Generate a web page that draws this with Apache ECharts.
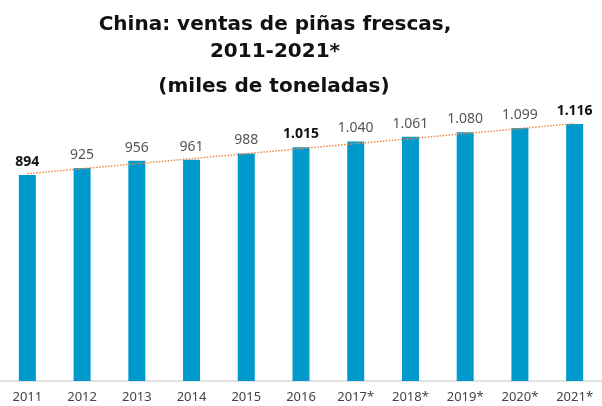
<!DOCTYPE html>
<html>
<head>
<meta charset="utf-8">
<script src="https://cdn.jsdelivr.net/npm/echarts@6/dist/echarts.min.js"></script>
<style>
    html, body { margin: 0; padding: 0; background: #fff; }
    #chart { width: 602px; height: 406px; }
</style>
</head>
<body>
<div id="chart"></div>
<script>
    // años (los marcados con * son estimados)
    var years = ['2011', '2012', '2013', '2014', '2015', '2016', '2017*', '2018*', '2019*', '2020*', '2021*']
    // ventas, miles de toneladas
    var sales = [894, 925, 956, 961, 988, 1015, 1040, 1061, 1080, 1099, 1116]
    // etiquetas en negrita
    var boldYears = ['2011', '2016', '2021*']
    // línea de tendencia: solo extremos
    var trend = [900, null, null, null, null, null, null, null, null, null, 1118]

    var fontFamily = '"Noto Sans", sans-serif'
    var titleFont = 'bold 20px "DejaVu Sans", sans-serif'

    // formato español: punto como separador de miles
    function fmt (v) {
        return String(v).replace(/\B(?=(\d{3})+(?!\d))/g, '.')
    }

    var barData = sales.map(function (v, i) {
        var item = { value: v }
        if (boldYears.indexOf(years[i]) !== -1) {
            item.label = { fontWeight: 'bold', color: '#111' }
        }
        return item
    })

    var chart = echarts.init(document.getElementById('chart'))
    chart.setOption({
        animation: false,
        graphic: [
            {
                type: 'text', x: 275, y: 11,
                style: {
                    text: 'China: ventas de piñas frescas,\n2011-2021*',
                    font: titleFont, fill: '#111',
                    textAlign: 'center', textVerticalAlign: 'top', lineHeight: 27
                }
            },
            {
                type: 'text', x: 274, y: 77,
                style: {
                    text: '(miles de toneladas)',
                    font: titleFont, fill: '#111',
                    textAlign: 'center', textVerticalAlign: 'top'
                }
            }
        ],
        grid: { left: 0, width: 611, top: 124, bottom: 25 },
        xAxis: {
            type: 'category',
            data: years,
            axisTick: { show: false },
            axisLine: { lineStyle: { color: '#d9d9d9', width: 1.5 } },
            axisLabel: {
                color: '#444', fontSize: 13, fontFamily: fontFamily, margin: 10,
                interval: 0
            }
        },
        yAxis: {
            type: 'value', min: 0, max: 1116,
            show: false
        },
        series: [
            {
                type: 'bar',
                data: barData,
                barWidth: 17,
                itemStyle: { color: '#0099CC' },
                label: {
                    show: true, position: 'top', distance: 6,
                    color: '#555', fontSize: 14, fontFamily: fontFamily,
                    formatter: function (p) { return fmt(p.value) }
                }
            },
            {
                type: 'line',
                data: trend,
                connectNulls: true,
                symbol: 'none',
                z: 5,
                lineStyle: { color: '#F08A4B', width: 1.5, type: 'dotted' }
            }
        ]
    })
</script>
</body>
</html>
